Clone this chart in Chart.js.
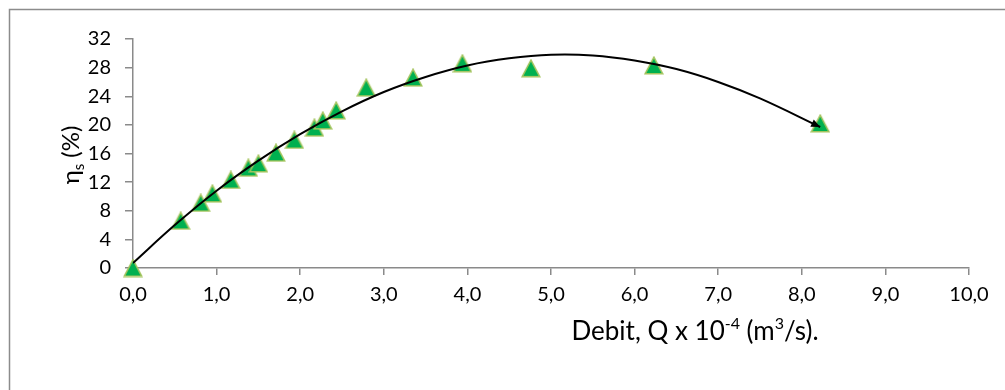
<!DOCTYPE html>
<html>
<head>
<meta charset="utf-8">
<script src="https://cdn.jsdelivr.net/npm/chart.js@4.4.0/dist/chart.umd.min.js"></script>
<style>
  html, body { margin: 0; padding: 0; background: #fff; }
  #wrap { width: 1005px; height: 390px; position: relative; }
</style>
</head>
<body>
<div id="wrap"><canvas id="chart"></canvas></div>
<script>
// measured points (Q x 10^-4 m3/s, efficiency %)
const debit = [0, 0.57, 0.81, 0.95, 1.17, 1.38, 1.50, 1.71, 1.93, 2.17, 2.27, 2.43, 2.79, 3.35, 3.94, 4.76, 6.23, 8.22];
const efficiency = [0, 6.6, 9.1, 10.4, 12.3, 14.0, 14.6, 16.1, 17.9, 19.6, 20.6, 22.0, 25.2, 26.6, 28.6, 27.9, 28.3, 20.2];

// trendline
const trendX = [0, 0.5, 1, 1.5, 2, 2.5, 3, 3.5, 4, 4.5, 5, 5.5, 6, 6.5, 7, 7.5, 8.22];
const trendY = [0.7, 6.0, 10.8, 15.0, 18.7, 21.9, 24.6, 26.7, 28.3, 29.3, 29.8, 29.7, 29.0, 27.8, 26.0, 23.7, 19.7];

const xTicks = [0, 1, 2, 3, 4, 5, 6, 7, 8, 9, 10];
const yTicks = [0, 4, 8, 12, 16, 20, 24, 28, 32];

const FONT = 'Lato, "Open Sans", sans-serif';
const AXIS = '#8a8a8a';

// triangle marker like the spreadsheet one
function makeTriangle() {
    const c = document.createElement('canvas');
    c.width = 20; c.height = 19;
    const g = c.getContext('2d');
    g.beginPath();
    g.moveTo(10, 1.2);
    g.lineTo(18.8, 17.8);
    g.lineTo(1.2, 17.8);
    g.closePath();
    g.fillStyle = '#00b050';
    g.fill();
    g.lineWidth = 1.5;
    g.strokeStyle = '#a4c45e';
    g.stroke();
    return c;
}

function drawRich(ctx, parts, cx, cy) {
    let total = 0;
    parts.forEach(p => {
        ctx.font = p.size + 'px ' + FONT;
        p.w = ctx.measureText(p.t).width;
        total += p.w;
    });
    let x = cx - total / 2;
    ctx.textBaseline = 'alphabetic';
    ctx.textAlign = 'left';
    parts.forEach(p => {
        ctx.font = p.size + 'px ' + FONT;
        ctx.fillText(p.t, x, cy + (p.dy || 0));
        x += p.w;
    });
}

const decor = {
    id: 'decor',
    beforeDraw(chart) {
        const ctx = chart.ctx;
        ctx.save();
        ctx.strokeStyle = '#8c8c8c';
        ctx.lineWidth = 1.5;
        ctx.strokeRect(9.5, 9.5, 1100, 500);
        ctx.restore();
    },
    afterDatasetsDraw(chart) {
        // arrow head at the end of the trendline
        const meta = chart.getDatasetMeta(0);
        const pts = meta.data;
        const last = pts[pts.length - 1];
        const px = last.cp1x !== undefined ? last.cp1x : pts[pts.length - 2].x;
        const py = last.cp1y !== undefined ? last.cp1y : pts[pts.length - 2].y;
        const a = Math.atan2(last.y - py, last.x - px);
        const ctx = chart.ctx;
        const len = 9, half = 4;
        ctx.save();
        ctx.translate(last.x, last.y);
        ctx.rotate(a);
        ctx.beginPath();
        ctx.moveTo(0, 0);
        ctx.lineTo(-len, -half);
        ctx.lineTo(-len, half);
        ctx.closePath();
        ctx.fillStyle = '#000';
        ctx.fill();
        ctx.restore();
    },
    afterDraw(chart) {
        const ctx = chart.ctx;
        ctx.save();
        ctx.fillStyle = '#000';
        drawRich(ctx, [
            { t: 'Debit, Q x 10', size: 26 },
            { t: '-4', size: 16, dy: -11 },
            { t: ' (m', size: 26 },
            { t: '3', size: 16, dy: -11 },
            { t: '/s).', size: 26 }
        ], 695, 340);
        ctx.translate(79, 155);
        ctx.rotate(-Math.PI / 2);
        drawRich(ctx, [
            { t: '\u03B7', size: 24 },
            { t: 's', size: 15, dy: 5 },
            { t: ' (%)', size: 24 }
        ], 0, 0);
        ctx.restore();
    }
};

const triangle = makeTriangle();

new Chart(document.getElementById('chart'), {
    type: 'scatter',
    data: {
        datasets: [
            {
                label: 'trend',
                data: trendX.map((x, i) => ({ x: x, y: trendY[i] })),
                showLine: true,
                borderColor: '#000',
                borderWidth: 2,
                pointRadius: 0,
                tension: 0.4,
                fill: false,
                order: 0
            },
            {
                label: 'data',
                data: debit.map((x, i) => ({ x: x, y: efficiency[i] })),
                pointStyle: triangle,
                pointRadius: 10,
                clip: false,
                order: 1
            }
        ]
    },
    options: {
        responsive: true,
        maintainAspectRatio: false,
        animation: false,
        layout: { padding: { left: 0, top: 39, right: 36, bottom: 0 } },
        plugins: {
            legend: { display: false },
            tooltip: { enabled: false }
        },
        scales: {
            x: {
                type: 'linear',
                min: 0,
                max: 10,
                afterBuildTicks(axis) { axis.ticks = xTicks.map(v => ({ value: v })); },
                afterFit(axis) { axis.height = 122; },
                ticks: {
                    color: '#000',
                    font: { family: FONT, size: 20 },
                    padding: 8,
                    maxRotation: 0,
                    callback: v => v.toFixed(1).replace('.', ',')
                },
                grid: { display: true, drawOnChartArea: false, drawTicks: true, tickLength: 7, color: AXIS, lineWidth: 1.5 },
                border: { display: true, color: AXIS, width: 1.5 }
            },
            y: {
                type: 'linear',
                min: 0,
                max: 32,
                afterBuildTicks(axis) { axis.ticks = yTicks.map(v => ({ value: v })); },
                afterFit(axis) { axis.width = 133; },
                ticks: {
                    color: '#000',
                    font: { family: FONT, size: 20 },
                    padding: 14
                },
                grid: { display: true, drawOnChartArea: false, drawTicks: true, tickLength: 8, color: AXIS, lineWidth: 1.5 },
                border: { display: true, color: AXIS, width: 1.5 }
            }
        }
    },
    plugins: [decor]
});
</script>
</body>
</html>
